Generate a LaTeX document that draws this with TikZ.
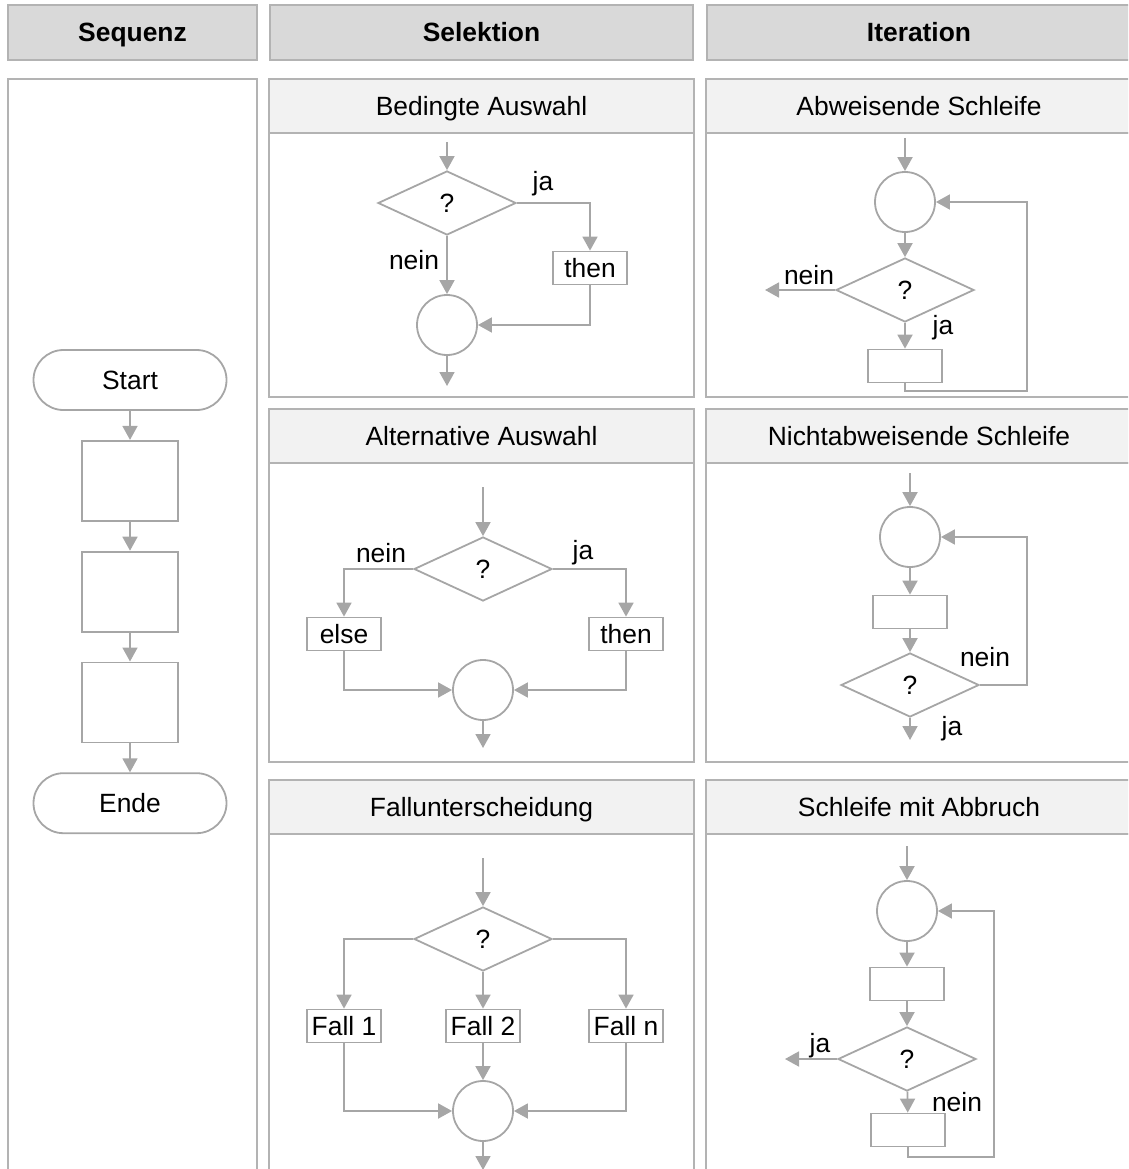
\documentclass[tikz,border=0pt]{standalone}
\usepackage{fontspec}
\setmainfont{Liberation Sans}
\usetikzlibrary{shapes.geometric, arrows.meta, positioning}
\definecolor{flowgray}{HTML}{A6A6A6}
\definecolor{framegray}{HTML}{B3B3B3}
\definecolor{headgray}{HTML}{D9D9D9}
\definecolor{subgray}{HTML}{F2F2F2}

\begin{document}
\begin{tikzpicture}[x=1pt, y=-1pt, node distance=29pt, >={Triangle[length=14pt,width=15pt]},
    every node/.style={font=\fontsize{26.4}{30}\selectfont, text height=19pt, text depth=0pt},
    colhead/.style={draw=framegray, line width=1.5pt, fill=headgray, minimum height=55pt, inner sep=0pt, outer sep=0pt, font=\fontsize{26.4}{30}\selectfont\bfseries},
    subhead/.style={draw=framegray, line width=1.5pt, fill=subgray, minimum height=54pt, inner sep=0pt, outer sep=0pt},
    subbody/.style={draw=framegray, line width=1.5pt, inner sep=0pt, outer sep=0pt},
    flow/.style={draw=flowgray, line width=1.8pt},
    conn/.style={flow, ->},
    term/.style={flow, rectangle, rounded corners=30pt, minimum width=193pt, minimum height=60pt},
    seqbox/.style={flow, rectangle, minimum width=96pt, minimum height=80pt},
    proc/.style={flow, rectangle, minimum width=74pt, minimum height=33pt, inner sep=2pt},
    decide/.style={flow, diamond, aspect=2, minimum width=138pt, minimum height=64pt, inner sep=0pt},
    junction/.style={flow, circle, minimum size=60pt, inner sep=0pt},
    lbl/.style={inner sep=0pt}]
    \useasboundingbox (0,0) rectangle (1128,1169);
    \clip (0,0) rectangle (1128,1169);

    \node [colhead, minimum width=249pt] (hseq) at (132.5,32.5) {Sequenz};
    \node [colhead, minimum width=423pt] (hsel) at (481.5,32.5) {Selektion};
    \node [colhead, minimum width=424pt] (hit) at (919,32.5) {Iteration};

    \node [subbody, minimum width=249pt, minimum height=1130pt, anchor=north] (seqbody) at (132.5,79) {};

    \node [subhead, minimum width=425pt] (bedhead) at (481.5,106) {Bedingte Auswahl};
    \node [subbody, minimum width=425pt, minimum height=264pt, below=0pt of bedhead] (bedbody) {};
    \node [subhead, minimum width=425pt] (althead) at (481.5,436) {Alternative Auswahl};
    \node [subbody, minimum width=425pt, minimum height=299pt, below=0pt of althead] (altbody) {};
    \node [subhead, minimum width=425pt] (fallhead) at (481.5,807) {Fallunterscheidung};
    \node [subbody, minimum width=425pt, minimum height=400pt, below=0pt of fallhead] (fallbody) {};

    \node [subhead, minimum width=426pt] (abwhead) at (919,106) {Abweisende Schleife};
    \node [subbody, minimum width=426pt, minimum height=264pt, below=0pt of abwhead] (abwbody) {};
    \node [subhead, minimum width=426pt] (nabhead) at (919,436) {Nichtabweisende Schleife};
    \node [subbody, minimum width=426pt, minimum height=299pt, below=0pt of nabhead] (nabbody) {};
    \node [subhead, minimum width=426pt] (abbhead) at (919,807) {Schleife mit Abbruch};
    \node [subbody, minimum width=426pt, minimum height=400pt, below=0pt of abbhead] (abbbody) {};

    \node [term] (start) at (130,380) {Start};
    \node [seqbox, below=of start] (s1) {};
    \node [seqbox, below=of s1] (s2) {};
    \node [seqbox, below=of s2] (s3) {};
    \node [term, below=of s3] (ende) {Ende};
    \draw[conn] (start) -- (s1);
    \draw[conn] (s1) -- (s2);
    \draw[conn] (s2) -- (s3);
    \draw[conn] (s3) -- (ende);

    \coordinate (bin) at (447,142);
    \node [decide] (bq) at (447,203) {?};
    \node [proc] (bthen) at (590,268) {then};
    \node [junction] (bj) at (447,325) {};
    \coordinate (bout) at (447,386);
    \node [lbl] (bja) at (543,181) {ja};
    \node [lbl] (bnein) at (414,260) {nein};
    \draw[conn] (bin) -- (bq);
    \draw[conn] (bq.east) -| (bthen);
    \draw[conn] (bq) -- (bj);
    \draw[conn] (bthen) |- (bj);
    \draw[conn] (bj) -- (bout);

    \coordinate (lin) at (483,487);
    \node [decide] (lq) at (483,569) {?};
    \node [proc] (lelse) at (344,634) {else};
    \node [proc] (lthen) at (626,634) {then};
    \node [junction] (lj) at (483,690) {};
    \coordinate (lout) at (483,748);
    \node [lbl] (lnein) at (381,553) {nein};
    \node [lbl] (lja) at (583,550) {ja};
    \draw[conn] (lin) -- (lq);
    \draw[conn] (lq.west) -| (lelse);
    \draw[conn] (lq.east) -| (lthen);
    \draw[conn] (lelse) |- (lj);
    \draw[conn] (lthen) |- (lj);
    \draw[conn] (lj) -- (lout);

    \coordinate (fin) at (483,858);
    \node [decide] (fq) at (483,939) {?};
    \node [proc] (f1) at (344,1026) {Fall 1};
    \node [proc] (f2) at (483,1026) {Fall 2};
    \node [proc] (fn) at (626,1026) {Fall n};
    \node [junction] (fj) at (483,1111) {};
    \coordinate (fout) at (483,1170);
    \draw[conn] (fin) -- (fq);
    \draw[conn] (fq.west) -| (f1);
    \draw[conn] (fq) -- (f2);
    \draw[conn] (fq.east) -| (fn);
    \draw[conn] (f1) |- (fj);
    \draw[conn] (f2) -- (fj);
    \draw[conn] (fn) |- (fj);
    \draw[conn] (fj) -- (fout);

    \coordinate (ain) at (905,138);
    \node [junction] (aj) at (905,202) {};
    \node [decide] (aq) at (905,290) {?};
    \node [proc] (ab) at (905,366) {};
    \coordinate (aout) at (765,290);
    \coordinate (aloop) at (1027,391);
    \node [lbl] (anein) at (809,275) {nein};
    \node [lbl] (aja) at (943,325) {ja};
    \draw[conn] (ain) -- (aj);
    \draw[conn] (aj) -- (aq);
    \draw[conn] (aq) -- (aout);
    \draw[conn] (aq) -- (ab);
    \draw[conn] (ab.south) |- (aloop) |- (aj.east);

    \coordinate (nin) at (910,473);
    \node [junction] (nj) at (910,537) {};
    \node [proc] (nb) at (910,612) {};
    \node [decide] (nq) at (910,685) {?};
    \coordinate (nloop) at (1027,685);
    \coordinate (nout) at (910,740);
    \node [lbl] (nnein) at (985,657) {nein};
    \node [lbl] (nja) at (952,726) {ja};
    \draw[conn] (nin) -- (nj);
    \draw[conn] (nj) -- (nb);
    \draw[conn] (nb) -- (nq);
    \draw[conn] (nq.east) -- (nloop) |- (nj.east);
    \draw[conn] (nq) -- (nout);

    \coordinate (xin) at (907,846);
    \node [junction] (xj) at (907,911) {};
    \node [proc] (xb1) at (907,984) {};
    \node [decide] (xq) at (907,1059) {?};
    \node [proc] (xb2) at (908,1130) {};
    \coordinate (xout) at (785,1059);
    \coordinate (xloop) at (994,1157);
    \node [lbl] (xja) at (820,1043) {ja};
    \node [lbl] (xnein) at (957,1102) {nein};
    \draw[conn] (xin) -- (xj);
    \draw[conn] (xj) -- (xb1);
    \draw[conn] (xb1) -- (xq);
    \draw[conn] (xq) -- (xout);
    \draw[conn] (xq) -- (xb2);
    \draw[conn] (xb2.south) |- (xloop) |- (xj.east);
\end{tikzpicture}
\end{document}
